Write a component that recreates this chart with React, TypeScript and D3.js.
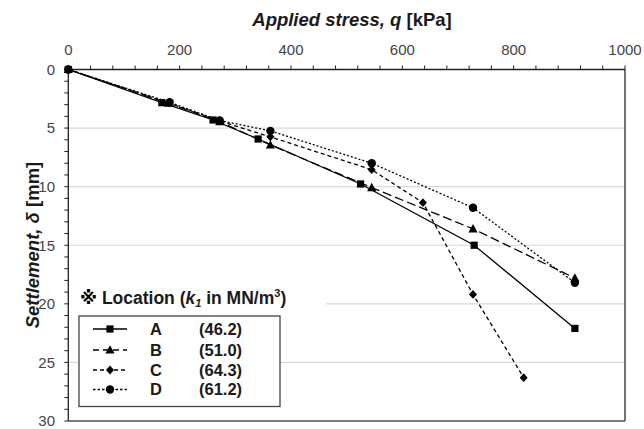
import React from "react";
import * as d3 from "d3";

const xTicks = [0, 200, 400, 600, 800, 1000];
const yTicks = [0, 5, 10, 15, 20, 25, 30];
const gridY = [5, 10, 15, 20, 25];

const loadA = [0, 168, 260, 341, 525, 729, 910];
const settA = [0, 2.83, 4.31, 5.93, 9.77, 15.0, 22.1];
const loadB = [0, 180, 272, 363, 545, 727, 910];
const settB = [0, 2.88, 4.45, 6.44, 10.08, 13.6, 17.8];
const loadC = [0, 180, 272, 363, 545, 637, 727, 818];
const settC = [0, 2.85, 4.4, 5.75, 8.55, 11.37, 19.2, 26.3];
const loadD = [0, 182, 272, 363, 545, 727, 910];
const settD = [0, 2.8, 4.35, 5.24, 8.0, 11.8, 18.2];

const seriesNames = ["A", "B", "C", "D"];
const seriesK = ["(46.2)", "(51.0)", "(64.3)", "(61.2)"];

const FONT = "'Liberation Sans', Arial, 'Noto Sans CJK JP', sans-serif";

type Shape = "square" | "triangle" | "diamond" | "circle";

function Marker({ cx, cy, shape }: { cx: number; cy: number; shape: Shape }) {
  if (shape === "square") return <rect x={cx - 3.6} y={cy - 3.6} width={7.2} height={7.2} fill="#000" />;
  if (shape === "circle") return <circle cx={cx} cy={cy} r={4.2} fill="#000" />;
  if (shape === "triangle")
    return <path d={`M${cx},${cy - 4.8}L${cx + 4.6},${cy + 3.6}L${cx - 4.6},${cy + 3.6}Z`} fill="#000" />;
  return <path d={`M${cx},${cy - 4.4}L${cx + 4},${cy}L${cx},${cy + 4.4}L${cx - 4},${cy}Z`} fill="#000" />;
}

export default function App() {
  const x = d3.scaleLinear().domain([0, 1000]).range([68.3, 625]);
  const y = d3.scaleLinear().domain([0, 30]).range([69.5, 421]);
  const line = d3
    .line<[number, number]>()
    .x((d) => x(d[0]))
    .y((d) => y(d[1]));

  const series: { load: number[]; sett: number[]; dash: string; shape: Shape }[] = [
    { load: loadA, sett: settA, dash: "none", shape: "square" },
    { load: loadB, sett: settB, dash: "9,4", shape: "triangle" },
    { load: loadC, sett: settC, dash: "4,3", shape: "diamond" },
    { load: loadD, sett: settD, dash: "2,2", shape: "circle" },
  ];

  const xMinor = d3.range(0, 1001, 40);
  const yMinor = d3.range(0, 31, 1);

  const legendRowY = [329, 350, 370, 389.5];
  const legendDash = ["none", "6,4", "4,3", "2.5,2"];

  return (
    <svg width={644} height={429} style={{ position: "absolute", left: 0, top: 0 }} fontFamily={FONT}>
      <rect width={644} height={429} fill="#fff" />
      {gridY.map((v) => (
        <line key={v} x1={x(0)} x2={x(1000)} y1={y(v)} y2={y(v)} stroke="#d9d9d9" strokeWidth={1.2} />
      ))}
      <line x1={x(1000)} x2={x(1000)} y1={y(0)} y2={y(30)} stroke="#505050" strokeWidth={1.6} />
      <line x1={x(0)} x2={x(1000)} y1={y(30)} y2={y(30)} stroke="#505050" strokeWidth={1.6} />
      <line x1={x(0)} x2={x(1000)} y1={y(0)} y2={y(0)} stroke="#222" strokeWidth={1.3} />
      <line x1={x(0)} x2={x(0)} y1={y(0)} y2={y(30)} stroke="#222" strokeWidth={1.3} />
      {xMinor.map((v) => (
        <line key={"xt" + v} x1={x(v)} x2={x(v)} y1={y(0)} y2={y(0) - 4} stroke="#222" strokeWidth={1} />
      ))}
      {yMinor.map((v) => (
        <line key={"yt" + v} x1={x(0) - 4} x2={x(0)} y1={y(v)} y2={y(v)} stroke="#222" strokeWidth={1} />
      ))}
      {xTicks.map((v) => (
        <text key={"xl" + v} x={x(v)} y={55} textAnchor="middle" fontSize={15} fill="#444">
          {v}
        </text>
      ))}
      {yTicks.map((v) => (
        <text key={"yl" + v} x={55} y={y(v) + 5.3} textAnchor="end" fontSize={15} fill="#444">
          {v}
        </text>
      ))}
      <text x={352} y={26} textAnchor="middle" fontSize={18.5} fontWeight="bold" fill="#1a1a1a">
        <tspan fontStyle="italic">Applied stress, q </tspan>
        <tspan>[kPa]</tspan>
      </text>
      <text
        transform={`translate(39,${245}) rotate(-90)`}
        textAnchor="middle"
        fontSize={18.5}
        fontWeight="bold"
        fill="#1a1a1a"
      >
        <tspan fontStyle="italic">Settlement, δ </tspan>
        <tspan>[mm]</tspan>
      </text>
      {series.map((s, i) => {
        const pts: [number, number][] = s.load.map((l, j) => [l, s.sett[j]]);
        return (
          <g key={i}>
            <path d={line(pts) || ""} fill="none" stroke="#000" strokeWidth={1.3} strokeDasharray={s.dash} />
            {pts.map((p, j) => (
              <Marker key={j} cx={x(p[0])} cy={y(p[1])} shape={s.shape} />
            ))}
          </g>
        );
      })}
      <rect x={70} y={289} width={256} height={22} fill="#fff" />
      <text x={80} y={304} fontSize={17.5} fontWeight="bold" fill="#1a1a1a">
        <tspan fontFamily="'DejaVu Sans', 'Noto Sans CJK JP', sans-serif" fontWeight="bold" fill="#000">※</tspan>
        <tspan> Location (</tspan>
        <tspan fontStyle="italic">k</tspan>
        <tspan fontStyle="italic" fontSize={11} dy={3}>1</tspan>
        <tspan dy={-3}> in MN/m</tspan>
        <tspan fontSize={11} dy={-7}>3</tspan>
        <tspan dy={7}>)</tspan>
      </text>
      <rect x={79} y={316} width={201} height={90.5} fill="#fff" stroke="#444" strokeWidth={1.3} />
      {seriesNames.map((n, i) => {
        const cy = legendRowY[i];
        return (
          <g key={n}>
            <line x1={93} x2={127} y1={cy} y2={cy} stroke="#000" strokeWidth={1.3} strokeDasharray={legendDash[i]} />
            <Marker cx={110} cy={cy} shape={series[i].shape} />
            <text x={150} y={cy + 5.8} fontSize={16.5} fontWeight="bold" fill="#1a1a1a">
              {n}
            </text>
            <text x={199} y={cy + 5.8} fontSize={16.5} fontWeight="bold" fill="#1a1a1a">
              {seriesK[i]}
            </text>
          </g>
        );
      })}
    </svg>
  );
}
